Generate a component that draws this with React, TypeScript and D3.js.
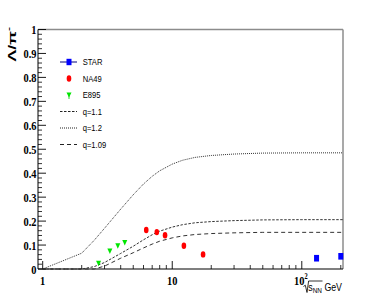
import { useMemo } from 'react';
import * as d3 from 'd3';

// sqrt(s_NN) in GeV, Lambda/pi- ratio
const STAR_S = [130, 200];
const STAR_R = [0.045, 0.053];
const NA49_S = [6.3, 7.6, 8.8, 12.3, 17.3];
const NA49_R = [0.163, 0.154, 0.141, 0.097, 0.061];
const E895_S = [2.7, 3.3, 3.8, 4.3];
const E895_R = [0.024, 0.075, 0.097, 0.111];

// model curves
const CURVE_S = [1, 2, 2.5, 3, 4, 5, 6, 7, 8, 10, 12, 15, 20, 30, 50, 100, 208];
const Q110 = [0, 0, 0.01, 0.027, 0.065, 0.095, 0.122, 0.143, 0.158, 0.175, 0.185, 0.193, 0.198, 0.202, 0.205, 0.206, 0.206];
const Q120 = [0, 0.066, 0.12, 0.17, 0.25, 0.31, 0.355, 0.387, 0.41, 0.438, 0.454, 0.466, 0.474, 0.48, 0.484, 0.485, 0.485];
const Q109 = [0, 0, 0, 0.012, 0.045, 0.068, 0.088, 0.104, 0.116, 0.13, 0.138, 0.144, 0.148, 0.151, 0.153, 0.153, 0.153];

const X_MAJOR = [1, 10, 100];
const X_MINOR = [2, 3, 4, 5, 6, 7, 8, 9, 20, 30, 40, 50, 60, 70, 80, 90, 200];

const LEGEND = [
  { label: 'STAR', kind: 'star' },
  { label: 'NA49', kind: 'na49' },
  { label: 'E895', kind: 'e895' },
  { label: 'q=1.1', kind: 'line', dash: '2.5,1.5' },
  { label: 'q=1.2', kind: 'line', dash: '1,1' },
  { label: 'q=1.09', kind: 'line', dash: '4,3' },
];

const W = 382;
const H = 300;
const M = { left: 38, right: 343, top: 29.5, bottom: 269 };
const SQ = 0.8; // horizontal squeeze of the text

const serif = '"Liberation Serif", "Times New Roman", serif';
const sans = '"Liberation Sans", Arial, sans-serif';

function T({ x, y, anchor = 'start', size, family, weight = 'normal', children }: any) {
  return (
    <text
      transform={`translate(${x},${y}) scale(${SQ},1)`}
      textAnchor={anchor}
      fontSize={size}
      fontFamily={family}
      fontWeight={weight}
      fill="#000"
    >
      {children}
    </text>
  );
}

export default function App() {
  const x = useMemo(() => d3.scaleLog().domain([0.92, 208]).range([M.left, M.right]), []);
  const y = useMemo(() => d3.scaleLinear().domain([0, 1]).range([M.bottom, M.top]), []);

  const line = d3.line<number>()
    .x((_, i) => x(CURVE_S[i]))
    .y(d => y(d));

  const yMajor = d3.range(0, 11).map(i => i / 10);
  const yMinor = d3.range(0, 51).map(i => i / 50).filter((_, i) => i % 5 !== 0);

  const curves = [
    { v: Q120, dash: '1,1' },
    { v: Q110, dash: '2.5,1.5' },
    { v: Q109, dash: '4,3' },
  ];

  return (
    <div style={{ position: 'fixed', left: 0, top: 0, width: W, height: H, background: '#fff' }}>
      <svg width={W} height={H} style={{ display: 'block' }}>
        <rect width={W} height={H} fill="#fff" />

        {/* frame */}
        <line x1={M.left} x2={M.right} y1={M.top} y2={M.top} stroke="#8c8c8c" strokeWidth={1.3} />
        <line x1={M.right} x2={M.right} y1={M.top} y2={M.bottom} stroke="#8c8c8c" strokeWidth={1.5} />
        <line x1={M.left} x2={M.left} y1={M.top} y2={M.bottom} stroke="#000" strokeWidth={1} />
        <line x1={M.left} x2={M.right} y1={M.bottom} y2={M.bottom} stroke="#000" strokeWidth={1.2} />

        {/* y ticks */}
        {yMajor.map(v => (
          <line key={'ym' + v} x1={M.left} x2={M.left + 8} y1={y(v)} y2={y(v)} stroke="#000" strokeWidth={0.9} />
        ))}
        {yMinor.map(v => (
          <line key={'yn' + v} x1={M.left} x2={M.left + 4} y1={y(v)} y2={y(v)} stroke="#000" strokeWidth={0.8} />
        ))}
        {yMajor.map(v => (
          <T key={'yl' + v} x={36.5} y={y(v) + 4.5} anchor="end" size={13} family={serif} weight="bold">
            {String(Math.round(v * 10) / 10)}
          </T>
        ))}

        {/* x ticks */}
        {X_MAJOR.map(v => (
          <line key={'xm' + v} x1={x(v)} x2={x(v)} y1={M.bottom} y2={M.bottom - 8} stroke="#000" strokeWidth={0.9} />
        ))}
        {X_MINOR.map(v => (
          <line key={'xn' + v} x1={x(v)} x2={x(v)} y1={M.bottom} y2={M.bottom - 4} stroke="#000" strokeWidth={0.8} />
        ))}
        <T x={x(1)} y={285} anchor="middle" size={13} family={serif} weight="bold">1</T>
        <T x={x(10)} y={285} anchor="middle" size={13} family={serif} weight="bold">10</T>
        <T x={x(100) - 1} y={285} anchor="middle" size={13} family={serif} weight="bold">
          10<tspan dy={-6} fontSize={8}>2</tspan>
        </T>

        {/* axis titles */}
        <text
          transform={`translate(15.5,27) rotate(-90) scale(1,0.6)`}
          textAnchor="end"
          fontSize={18}
          fontFamily={sans}
          fontWeight="bold"
          fill="#000"
        >
          Λ/π<tspan dy={-8} fontSize={12}>-</tspan>
        </text>
        <path d="M303.5,286.5 L305.3,285.2 L307,292.5 L308.6,281 L322.5,281" fill="none" stroke="#000" strokeWidth={0.8} />
        <T x={308.3} y={290.5} size={11} family={sans}>
          s<tspan dy={2.5} fontSize={8}>NN</tspan><tspan dy={-2.5}> GeV</tspan>
        </T>

        {/* model curves */}
        {curves.map((c, i) => (
          <path key={'c' + i} d={line(c.v) || ''} fill="none" stroke="#333" strokeWidth={1} strokeDasharray={c.dash} />
        ))}

        {/* data */}
        {E895_S.map((s, i) => {
          const cx = x(s), cy = y(E895_R[i]);
          return <path key={'e' + i} d={`M${cx - 2.5},${cy - 2.5} L${cx + 2.5},${cy - 2.5} L${cx},${cy + 3} Z`} fill="#00e600" />;
        })}
        {NA49_S.map((s, i) => (
          <ellipse key={'n' + i} cx={x(s)} cy={y(NA49_R[i])} rx={2.3} ry={3.2} fill="#ff0000" />
        ))}
        {STAR_S.map((s, i) => (
          <rect key={'s' + i} x={x(s) - 2.5} y={y(STAR_R[i]) - 3.3} width={5} height={6.6} fill="#0000ff" />
        ))}

        {/* legend */}
        {LEGEND.map((e, i) => {
          const ly = 62 + i * 16.5;
          const lx = 69;
          return (
            <g key={'lg' + i}>
              {e.kind === 'star' && (
                <>
                  <line x1={60} x2={77} y1={ly} y2={ly} stroke="#000080" strokeWidth={1} />
                  <rect x={lx - 2.5} y={ly - 3.2} width={5} height={6.4} fill="#0000ff" />
                </>
              )}
              {e.kind === 'na49' && <ellipse cx={lx} cy={ly} rx={2.3} ry={3.2} fill="#ff0000" />}
              {e.kind === 'e895' && (
                <>
                  <line x1={lx} x2={lx} y1={ly} y2={ly + 4} stroke="#00c000" strokeWidth={0.8} />
                  <path d={`M${lx - 2.5},${ly - 2.5} L${lx + 2.5},${ly - 2.5} L${lx},${ly + 2.5} Z`} fill="#00e600" />
                </>
              )}
              {e.kind === 'line' && (
                <line x1={60} x2={77} y1={ly} y2={ly} stroke="#222" strokeWidth={1} strokeDasharray={e.dash} />
              )}
              <T x={82.7} y={ly + 3.3} size={9.5} family={sans}>{e.label}</T>
            </g>
          );
        })}
      </svg>
    </div>
  );
}
